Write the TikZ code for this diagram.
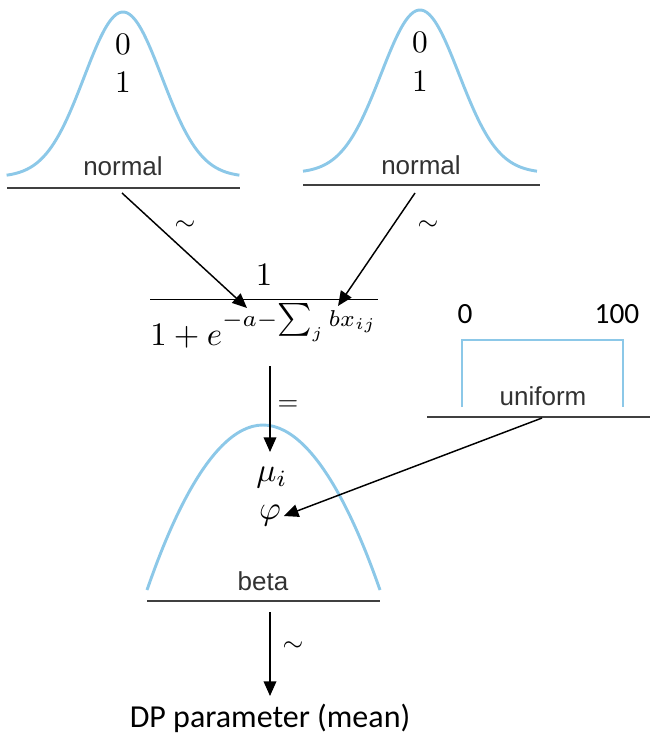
\documentclass[tikz,border=0pt]{standalone}
\usepackage{graphicx}
\usepackage{fontspec}
\setsansfont{Liberation Sans}
\newfontfamily\calibri{Carlito}
\usetikzlibrary{arrows.meta}
\definecolor{curveblue}{RGB}{140,200,232}
\definecolor{basegray}{RGB}{64,64,64}
\definecolor{labelgray}{RGB}{50,50,50}
\newcommand{\scaledmath}[2]{\scalebox{#1}{$#2$}}
\begin{document}
\begin{tikzpicture}[x=0.75pt,y=-0.75pt,
  curve/.style={draw=curveblue,line width=2.2pt},
  baseline rule/.style={draw=basegray,line width=2.2pt},
  conn/.style={draw=black,line width=1.1pt,-{Triangle[length=11pt,width=9.5pt]}},
  distlabel/.style={font=\fontsize{19.5}{22}\selectfont\sffamily,text=labelgray,inner sep=0pt,anchor=base},
  param/.style={inner sep=0pt,anchor=base},
  calib/.style={font=\fontsize{22}{26}\selectfont\calibri,inner sep=0pt,anchor=base},
  rel/.style={inner sep=0pt}]
\useasboundingbox (0,0) rectangle (650,734);

% ---- left normal
\draw[curve] plot[domain=-3:3,samples=90,smooth] ({123+38.8*\x},{177-165*exp(-0.5*(\x)*(\x))});
\draw[baseline rule] (7,188) -- (240,188);
\node[param] (lmean) at (123,55) {\scaledmath{2.35}{0}};
\node[param] (lsd) at (123,93) {\scaledmath{2.35}{1}};
\node[distlabel] (llab) at (123,176) {normal};
\coordinate (lstart) at (122,193);

% ---- right normal
\draw[curve] plot[domain=-3:3,samples=90,smooth] ({420+39*\x},{173-163*exp(-0.5*(\x)*(\x))});
\draw[baseline rule] (303,185) -- (540,185);
\node[param] (rmean) at (420,53) {\scaledmath{2.35}{0}};
\node[param] (rsd) at (420,92) {\scaledmath{2.35}{1}};
\node[distlabel] (rlab) at (421,175) {normal};
\coordinate (rstart) at (415,193);

% ---- logistic link
\node[inner sep=0pt,anchor=base] (link) at (264,307.5)
  {\scalebox{2.46}{$\displaystyle\frac{1}{1+e^{-a-\sum_j bx_{ij}}}$}};
\coordinate (ltip) at (247,308);
\coordinate (rtip) at (338,306);
\draw[conn] (lstart) -- (ltip);
\draw[conn] (rstart) -- (rtip);
\node[rel] (ltilde) at (185,226) {\scaledmath{2}{\sim}};
\node[rel] (rtilde) at (428,226) {\scaledmath{2}{\sim}};

% ---- uniform
\draw[curve] (462,407) -- (462,340) -- (623,340) -- (623,407);
\draw[baseline rule] (427,417) -- (650,417);
\node[calib] (umin) at (465,323) {0};
\node[calib] (umax) at (617,323) {100};
\node[distlabel] (ulab) at (543,405) {uniform};
\coordinate (ustart) at (542,418);

% ---- beta
\draw[curve] (147,590) parabola bend (263,425) (380,590);
\draw[baseline rule] (147,601) -- (380,601);
\node[distlabel] (blab) at (263,590) {beta};
\node[inner sep=0pt] (mu) at (272,478) {\scaledmath{2.5}{\mu_i}};
\node[inner sep=0pt] (phi) at (270,516) {\scaledmath{2.5}{\varphi}};
\coordinate (linkbottom) at (270,366);
\coordinate (mutip) at (270,452);
\draw[conn] (linkbottom) -- (mutip);
\node[rel] (eq) at (288,406) {\scaledmath{2}{=}};
\draw[conn] (ustart) -- ([xshift=2pt]phi.east);

% ---- output
\coordinate (bstart) at (270,612);
\node[font=\fontsize{24}{28}\selectfont\calibri,inner sep=0pt,anchor=base] (dp) at (270,727) {DP parameter (mean)};
\coordinate (dptip) at (270,696);
\draw[conn] (bstart) -- (dptip);
\node[rel] (btilde) at (293,647) {\scaledmath{2}{\sim}};
\end{tikzpicture}
\end{document}
